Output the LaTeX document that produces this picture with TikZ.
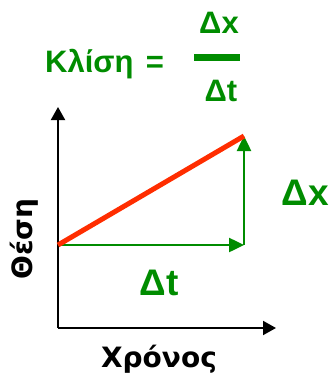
\documentclass[tikz,border=0pt]{standalone}
\usepackage{fontspec}
\setmainfont{Liberation Sans}
\newfontfamily\labelfont{DejaVu Sans}
\usetikzlibrary{positioning, arrows.meta}
\definecolor{slopegreen}{RGB}{0, 140, 0}
\definecolor{linered}{RGB}{255, 45, 0}

\begin{document}
\begin{tikzpicture}[
    x=1pt, y=-1pt,
    axis/.style={-{Triangle[length=13pt, width=14pt]}, line width=2pt, black},
    delta/.style={-{Triangle[length=15pt, width=14pt]}, line width=2.5pt, slopegreen},
    graph/.style={line width=5pt, linered},
    glabel/.style={font=\fontsize{37}{37}\selectfont\bfseries, text=slopegreen, inner sep=0pt},
    ftext/.style={font=\fontsize{31}{31}\selectfont\bfseries, text=slopegreen, inner sep=0pt},
    alabel/.style={font=\labelfont\fontsize{28}{28}\selectfont\bfseries, text=black, inner sep=0pt}
]
    \useasboundingbox (0,0) rectangle (329,381);

    % Slope formula
    \node[ftext, anchor=base west] (slope) at (45,72) {Κλίση\hspace{0.4em}=};
    \node[ftext, anchor=base] (num) at (219,33) {Δx};
    \node[ftext, anchor=base] (den) at (221,101) {Δt};
    \coordinate (barL) at (194,57);
    \coordinate (barR) at (240,57);
    \draw[slopegreen, line width=7pt] (barL) -- (barR);

    % Axes
    \coordinate (origin) at (58,328);
    \coordinate (ytop) at (58,107);
    \coordinate (xend) at (276,328);
    \draw[axis] (origin) -- (ytop);
    \draw[axis] (origin) -- (xend);

    % Graph and deltas
    \coordinate (start) at (58,245);
    \coordinate (corner) at (244,245);
    \coordinate (end) at (244,136);
    \draw[delta] (start) -- (corner);
    \draw[delta] (corner) -- (end);
    \draw[graph] (start) -- (end);

    % Labels
    \node[glabel, anchor=base] (dx) at (305,205) {Δx};
    \node[glabel, anchor=base] (dt) at (159,295) {Δt};
    \node[alabel, anchor=base] (time) at (159,367) {Χρόνος};
    \node[alabel, anchor=base, rotate=90] (pos) at (32,239) {Θέση};
\end{tikzpicture}
\end{document}
